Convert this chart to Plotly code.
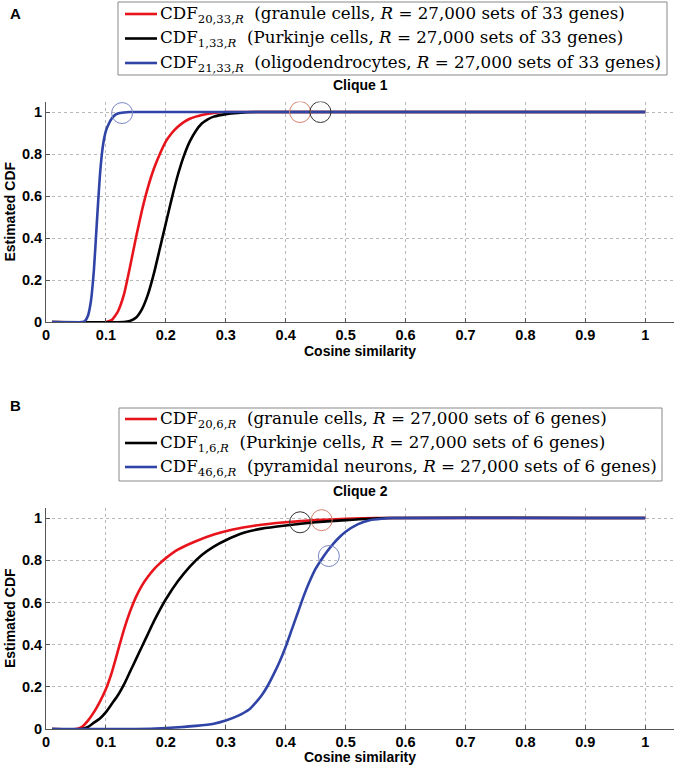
import plotly.graph_objects as go

# ---- Clique 1 (panel A) ----
a_blue_x = [0.01, 0.06, 0.065, 0.07, 0.075, 0.08, 0.085, 0.09, 0.095, 0.10, 0.105, 0.11, 0.115, 0.12, 0.13, 0.14, 1.0]
a_blue_y = [0, 0, 0.005, 0.03, 0.10, 0.25, 0.48, 0.70, 0.84, 0.91, 0.945, 0.97, 0.985, 0.993, 0.998, 1.0, 1.0]
a_red_x = [0.01, 0.10, 0.11, 0.12, 0.13, 0.14, 0.15, 0.16, 0.17, 0.18, 0.19, 0.20, 0.21, 0.22, 0.23, 0.24, 0.25, 0.26, 0.28, 0.30, 1.0]
a_red_y = [0, 0, 0.01, 0.05, 0.13, 0.26, 0.40, 0.53, 0.64, 0.73, 0.80, 0.86, 0.90, 0.93, 0.952, 0.968, 0.978, 0.986, 0.995, 1, 1]
a_black_x = [0.01, 0.13, 0.14, 0.15, 0.16, 0.17, 0.18, 0.19, 0.20, 0.21, 0.22, 0.23, 0.24, 0.25, 0.26, 0.27, 0.28, 0.30, 0.32, 0.35, 1.0]
a_black_y = [0, 0, 0.005, 0.02, 0.06, 0.13, 0.23, 0.35, 0.47, 0.59, 0.70, 0.79, 0.86, 0.91, 0.945, 0.965, 0.978, 0.99, 0.996, 1, 1]
a_circle_x = [0.127, 0.424, 0.458]
a_circle_y = [0.995, 1.0, 1.0]

# ---- Clique 2 (panel B) ----
b_red_x = [0.01, 0.05, 0.06, 0.07, 0.08, 0.09, 0.10, 0.11, 0.12, 0.13, 0.14, 0.15, 0.16, 0.17, 0.18, 0.19, 0.20, 0.22, 0.25, 0.28, 0.31, 0.35, 0.40, 0.45, 0.50, 0.55, 1.0]
b_red_y = [0, 0, 0.01, 0.04, 0.08, 0.13, 0.19, 0.27, 0.37, 0.47, 0.555, 0.625, 0.68, 0.722, 0.757, 0.785, 0.81, 0.85, 0.89, 0.922, 0.945, 0.965, 0.98, 0.99, 0.996, 1, 1]
b_black_x = [0.01, 0.06, 0.07, 0.08, 0.09, 0.10, 0.11, 0.12, 0.13, 0.14, 0.15, 0.16, 0.17, 0.18, 0.19, 0.20, 0.22, 0.24, 0.26, 0.28, 0.30, 0.33, 0.36, 0.40, 0.45, 0.50, 0.57, 1.0]
b_black_y = [0, 0, 0.01, 0.03, 0.05, 0.08, 0.12, 0.16, 0.21, 0.27, 0.33, 0.39, 0.45, 0.51, 0.565, 0.615, 0.70, 0.77, 0.825, 0.865, 0.895, 0.93, 0.95, 0.965, 0.98, 0.99, 1, 1]
b_blue_x = [0.01, 0.15, 0.20, 0.25, 0.28, 0.30, 0.32, 0.34, 0.35, 0.36, 0.37, 0.38, 0.39, 0.40, 0.41, 0.42, 0.43, 0.44, 0.45, 0.46, 0.47, 0.48, 0.49, 0.50, 0.52, 0.54, 0.56, 0.58, 1.0]
b_blue_y = [0, 0, 0.005, 0.015, 0.025, 0.04, 0.062, 0.095, 0.125, 0.16, 0.205, 0.26, 0.32, 0.39, 0.47, 0.55, 0.63, 0.70, 0.76, 0.805, 0.845, 0.88, 0.91, 0.935, 0.97, 0.99, 0.997, 1, 1]
b_circle_x = [0.424, 0.46, 0.472]
b_circle_y = [0.98, 0.99, 0.82]

x_ticks = [0, 0.1, 0.2, 0.3, 0.4, 0.5, 0.6, 0.7, 0.8, 0.9, 1]
x_ticklabels = ["0", "0.1", "0.2", "0.3", "0.4", "0.5", "0.6", "0.7", "0.8", "0.9", "1"]
y_ticks = [0, 0.2, 0.4, 0.6, 0.8, 1]
y_ticklabels = ["0", "0.2", "0.4", "0.6", "0.8", "1"]

RED = "#e8141c"
BLACK = "#000000"
BLUE = "#2f44a6"
colors = [RED, BLACK, BLUE]

names_a = [
    "CDF<sub>20,33,<i>R</i></sub>&nbsp; (granule cells, <i>R</i> = 27,000 sets of 33 genes)",
    "CDF<sub>1,33,<i>R</i></sub>&nbsp; (Purkinje cells, <i>R</i> = 27,000 sets of 33 genes)",
    "CDF<sub>21,33,<i>R</i></sub>&nbsp; (oligodendrocytes, <i>R</i> = 27,000 sets of 33 genes)",
]
names_b = [
    "CDF<sub>20,6,<i>R</i></sub>&nbsp; (granule cells, <i>R</i> = 27,000 sets of 6 genes)",
    "CDF<sub>1,6,<i>R</i></sub>&nbsp; (Purkinje cells, <i>R</i> = 27,000 sets of 6 genes)",
    "CDF<sub>46,6,<i>R</i></sub>&nbsp; (pyramidal neurons, <i>R</i> = 27,000 sets of 6 genes)",
]

W, H = 680, 765
ML, MR = 46, 6
PW = W - ML - MR


def px_x(p):
    return (p - ML) / PW


def px_y(p):
    return 1 - p / H


fig = go.Figure()

# panel A curves
for xs, ys, col, nm in [(a_red_x, a_red_y, RED, names_a[0]),
                        (a_black_x, a_black_y, BLACK, names_a[1]),
                        (a_blue_x, a_blue_y, BLUE, names_a[2])]:
    fig.add_trace(go.Scatter(x=xs, y=ys, mode="lines", name=nm, showlegend=False,
                             line=dict(color=col, width=2.6, shape="spline", smoothing=0.5),
                             xaxis="x", yaxis="y"))
fig.add_trace(go.Scatter(x=a_circle_x, y=a_circle_y, mode="markers", showlegend=False,
                         marker=dict(symbol="circle-open", size=21,
                                     color=["#7a86c2", "#d4806c", "#333333"], line=dict(width=1)),
                         xaxis="x", yaxis="y"))

# panel B curves
for xs, ys, col, nm in [(b_red_x, b_red_y, RED, names_b[0]),
                        (b_black_x, b_black_y, BLACK, names_b[1]),
                        (b_blue_x, b_blue_y, BLUE, names_b[2])]:
    fig.add_trace(go.Scatter(x=xs, y=ys, mode="lines", name=nm, showlegend=False,
                             line=dict(color=col, width=2.6, shape="spline", smoothing=0.5),
                             xaxis="x2", yaxis="y2"))
fig.add_trace(go.Scatter(x=b_circle_x, y=b_circle_y, mode="markers", showlegend=False,
                         marker=dict(symbol="circle-open", size=21,
                                     color=["#333333", "#d4806c", "#7a86c2"], line=dict(width=1)),
                         xaxis="x2", yaxis="y2"))

tick_font = dict(family="Arial, Liberation Sans", size=14.5, color="black")
title_font = dict(family="Arial, Liberation Sans", size=14, color="black")


def x_axis(anchor):
    return dict(domain=[0, 1], anchor=anchor, range=[0, 1.048],
                tickvals=x_ticks, ticktext=["<b>%s</b>" % t for t in x_ticklabels],
                tickfont=tick_font, showgrid=True, gridcolor="#b8b8b8", griddash="dot",
                gridwidth=1, zeroline=False, showline=True, linecolor="#555", linewidth=1,
                ticks="inside", ticklen=4, tickcolor="#555", automargin=False,
                title=dict(text="<b>Cosine similarity</b>", font=title_font, standoff=1))


def y_axis(domain, anchor):
    return dict(domain=domain, anchor=anchor, range=[0, 1.05],
                tickvals=y_ticks, ticktext=["<b>%s</b>" % t for t in y_ticklabels],
                tickfont=tick_font, showgrid=True, gridcolor="#b8b8b8", griddash="dot",
                gridwidth=1, zeroline=False, showline=True, linecolor="#555", linewidth=1,
                ticks="inside", ticklen=4, tickcolor="#555", automargin=False,
                title=dict(text="<b>Estimated CDF</b>", font=title_font, standoff=3))


# hand-drawn legend boxes (MATLAB style, above each axes)
shapes = []
annotations = []
legend_font = dict(family="DejaVu Serif", size=16.7, color="black")
for box, rows, names in [((118, 2, 667, 75), (14, 38.5, 63), names_a),
                         ((119, 408, 662, 481), (419, 443, 467), names_b)]:
    x0, y0, x1, y1 = box
    shapes.append(dict(type="rect", xref="paper", yref="paper",
                       x0=px_x(x0), x1=px_x(x1), y0=px_y(y1), y1=px_y(y0),
                       line=dict(color="#888", width=1), fillcolor="white", layer="above"))
    for ry, nm, col in zip(rows, names, colors):
        shapes.append(dict(type="line", xref="paper", yref="paper",
                           x0=px_x(125), x1=px_x(157), y0=px_y(ry), y1=px_y(ry),
                           line=dict(color=col, width=2.6), layer="above"))
        annotations.append(dict(text=nm, x=px_x(158), y=px_y(ry), xref="paper", yref="paper",
                                showarrow=False, font=legend_font,
                                xanchor="left", yanchor="middle"))

annotations += [
    dict(text="<b>A</b>", x=px_x(8), y=px_y(13), xref="paper", yref="paper",
         showarrow=False, font=dict(family="Arial", size=15, color="black"),
         xanchor="left", yanchor="middle"),
    dict(text="<b>B</b>", x=px_x(8), y=px_y(405), xref="paper", yref="paper",
         showarrow=False, font=dict(family="Arial", size=15, color="black"),
         xanchor="left", yanchor="middle"),
    dict(text="<b>Clique 1</b>", x=0.5, y=px_y(85), xref="paper", yref="paper",
         showarrow=False, font=dict(family="Arial", size=14, color="black"), yanchor="middle"),
    dict(text="<b>Clique 2</b>", x=0.5, y=px_y(491), xref="paper", yref="paper",
         showarrow=False, font=dict(family="Arial", size=14, color="black"), yanchor="middle"),
]

fig.update_layout(
    width=W, height=H,
    margin=dict(l=ML, r=MR, t=0, b=0, autoexpand=False),
    plot_bgcolor="white", paper_bgcolor="white",
    showlegend=False,
    xaxis=x_axis("y"),
    yaxis=y_axis([px_y(322), px_y(101.5)], "x"),
    xaxis2=x_axis("y2"),
    yaxis2=y_axis([px_y(729), px_y(507.5)], "x2"),
    shapes=shapes,
    annotations=annotations,
)

# remove the default page margin so the figure sits at the window's top-left corner
fig.write_html("out.html", config={"displayModeBar": False},
               post_script="document.body.style.margin='0';")
